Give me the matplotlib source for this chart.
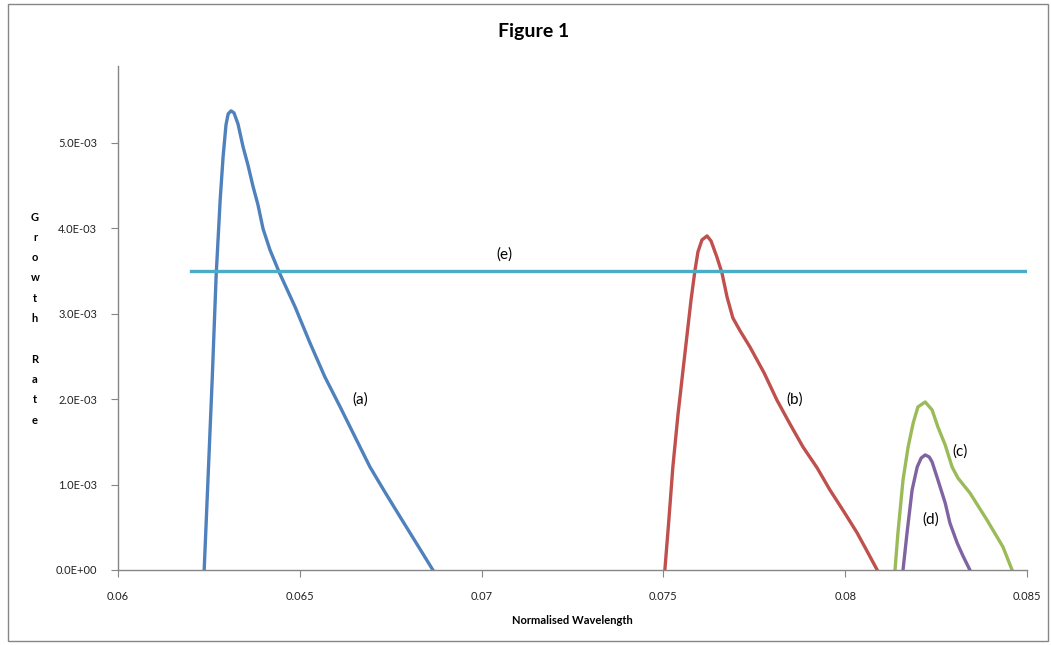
import matplotlib.pyplot as plt
from matplotlib.patches import Rectangle
from matplotlib.ticker import FuncFormatter

plt.rcParams['font.family'] = ['Lato', 'DejaVu Sans']

# curve (a)
xA = [0.06237, 0.06248, 0.06259, 0.06270, 0.06281, 0.06289, 0.06297, 0.06303,
      0.06311, 0.06319, 0.06330, 0.06344, 0.06358, 0.06371, 0.06385, 0.06399,
      0.06418, 0.06443, 0.06487, 0.06528, 0.06569, 0.06611, 0.06652, 0.06693,
      0.06734, 0.06776, 0.06822, 0.06866]
yA = [0.0, 1.112, 2.225, 3.454, 4.333, 4.836, 5.211, 5.340, 5.375, 5.351,
      5.222, 4.953, 4.731, 4.496, 4.274, 3.993, 3.747, 3.489, 3.080, 2.658,
      2.260, 1.909, 1.557, 1.206, 0.913, 0.621, 0.304, 0.0]

# curve (b)
xB = [0.07504, 0.07515, 0.07526, 0.07540, 0.07554, 0.07565, 0.07576, 0.07587,
      0.07595, 0.07606, 0.07620, 0.07631, 0.07647, 0.07661, 0.07675, 0.07691,
      0.07711, 0.07738, 0.07777, 0.07812, 0.07848, 0.07884, 0.07923, 0.07958,
      0.07997, 0.08033, 0.08060, 0.08088]
yB = [0.0, 0.585, 1.206, 1.815, 2.342, 2.752, 3.162, 3.513, 3.724, 3.864,
      3.911, 3.852, 3.665, 3.478, 3.197, 2.951, 2.799, 2.611, 2.307, 1.991,
      1.710, 1.440, 1.194, 0.937, 0.679, 0.433, 0.222, 0.0]

# curve (c)
xC = [0.08137, 0.08145, 0.08159, 0.08173, 0.08187, 0.08200, 0.08220, 0.08239,
      0.08255, 0.08275, 0.08294, 0.08310, 0.08343, 0.08390, 0.08434, 0.08459]
yC = [0.0, 0.433, 1.054, 1.440, 1.721, 1.909, 1.967, 1.874, 1.674, 1.464,
      1.206, 1.077, 0.902, 0.585, 0.269, 0.0]

# curve (d)
xD = [0.08159, 0.08170, 0.08184, 0.08198, 0.08209, 0.08220, 0.08231, 0.08239,
      0.08255, 0.08275, 0.08288, 0.08308, 0.08324, 0.08343]
yD = [0.0, 0.433, 0.937, 1.206, 1.311, 1.347, 1.323, 1.265, 1.054, 0.785,
      0.550, 0.316, 0.164, 0.0]

# line (e)
xE = [0.062, 0.085]
yE = [3.5, 3.5]

fig = plt.figure(figsize=(10.51, 6.45), dpi=100)
ax = fig.add_axes([118 / 1051, 1 - 570 / 645, 909 / 1051, 504 / 645])

lw = 2.4
ax.plot(xA, [v * 1e-3 for v in yA], color='#4F81BD', lw=lw, solid_joinstyle='round')
ax.plot(xB, [v * 1e-3 for v in yB], color='#C0504D', lw=lw, solid_joinstyle='round')
ax.plot(xC, [v * 1e-3 for v in yC], color='#9BBB59', lw=lw, solid_joinstyle='round')
ax.plot(xD, [v * 1e-3 for v in yD], color='#8064A2', lw=lw, solid_joinstyle='round')
ax.plot(xE, [v * 1e-3 for v in yE], color='#4BACC6', lw=lw)

ax.text(0.06666, 2.0e-3, '(a)', fontsize=11, ha='center', va='center')
ax.text(0.07862, 2.0e-3, '(b)', fontsize=11, ha='center', va='center')
ax.text(0.08316, 1.39e-3, '(c)', fontsize=11, ha='center', va='center')
ax.text(0.08236, 0.585e-3, '(d)', fontsize=11, ha='center', va='center')
ax.text(0.07064, 3.69e-3, '(e)', fontsize=11, ha='center', va='center')

ax.set_xlim(0.06, 0.085)
ax.set_ylim(0, 5.9e-3)
ax.set_xticks([0.06, 0.065, 0.07, 0.075, 0.08, 0.085])
ax.set_xticklabels(['0.06', '0.065', '0.07', '0.075', '0.08', '0.085'])
ax.set_yticks([0, 1e-3, 2e-3, 3e-3, 4e-3, 5e-3])
ax.yaxis.set_major_formatter(FuncFormatter(lambda v, p: '%.1E' % v))

for s in ['top', 'right']:
    ax.spines[s].set_visible(False)
for s in ['left', 'bottom']:
    ax.spines[s].set_color('#868686')
    ax.spines[s].set_linewidth(1.0)
ax.tick_params(axis='both', direction='out', length=5, color='#868686',
               labelsize=8, labelcolor='#222222')
ax.tick_params(axis='x', pad=10)
ax.tick_params(axis='y', pad=10)

fig.text(534 / 1051, 1 - 32 / 645, 'Figure 1', fontsize=14, fontweight='bold',
         ha='center', va='center')
fig.text(572 / 1051, 1 - 621 / 645, 'Normalised Wavelength', fontsize=8,
         fontweight='bold', ha='center', va='center')

for i, ch in enumerate('Growth Rate'):
    fig.text(35 / 1051, 1 - (217 + i * 20.3) / 645, ch, fontsize=8,
             fontweight='bold', ha='center', va='center')

fig.patches.append(Rectangle((8 / 1051, 4 / 645), 1040 / 1051, 637 / 645,
                             transform=fig.transFigure, fill=False,
                             edgecolor='#868686', lw=1.0))

fig.savefig('out.png', dpi=100)
